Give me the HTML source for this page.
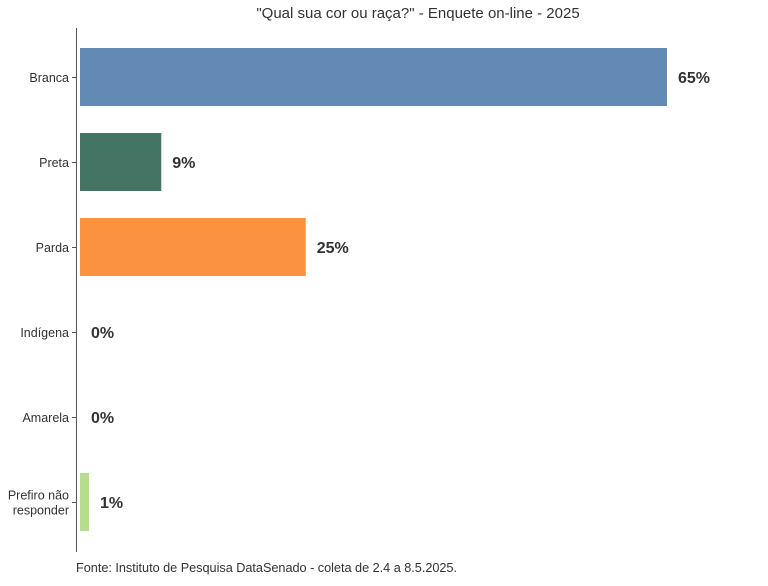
<!DOCTYPE html>
<html><head><meta charset="utf-8"><style>
body{margin:0;background:#fff;}
svg text{font-family:"Liberation Sans",sans-serif;}
</style></head><body>
<svg id="chart" width="768" height="581" xmlns="http://www.w3.org/2000/svg">
<text x="418" y="18" text-anchor="middle" font-size="15" fill="#333">"Qual sua cor ou raça?" - Enquete on-line - 2025</text>
<line x1="76.5" y1="28" x2="76.5" y2="552" stroke="#555" stroke-width="1"/>
<g id="bars"></g>
<text x="76" y="572" font-size="12.7" fill="#333" textLength="381">Fonte: Instituto de Pesquisa DataSenado - coleta de 2.4 a 8.5.2025.</text>
</svg>
<script>
const categories = ["Branca","Preta","Parda","Indígena","Amarela","Prefiro não responder"];
const values = [65,9,25,0,0,1];
const labels = ["65%","9%","25%","0%","0%","1%"];
const colors = ["#6389b5","#447463","#fb9240","#888","#888","#b5dd8f"];
const NS="http://www.w3.org/2000/svg";
const g=document.getElementById('bars');
const x0=80, pxPer=9.03;
const xScale=v=>x0+v*pxPer;
const yCenter=i=>77+i*85;
const bh=58;
categories.forEach((c,i)=>{
  const yc=yCenter(i);
  const r=document.createElementNS(NS,'rect');
  
  
  r.setAttribute('x',x0);r.setAttribute('y',yc-bh/2);
  r.setAttribute('width',Math.max(0,xScale(values[i])-x0));r.setAttribute('height',bh);
  r.setAttribute('fill',colors[i]);g.appendChild(r);
  const t=document.createElementNS(NS,'text');
  
  
  t.setAttribute('x',xScale(values[i])+11);t.setAttribute('y',yc+6);
  t.setAttribute('font-size','16');t.setAttribute('font-weight','bold');t.setAttribute('fill','#333');
  t.textContent=labels[i];g.appendChild(t);
  const tk=document.createElementNS(NS,'line');
  
  
  tk.setAttribute('x1',72);tk.setAttribute('x2',76);tk.setAttribute('y1',yc+0.5);tk.setAttribute('y2',yc+0.5);
  tk.setAttribute('stroke','#555');g.appendChild(tk);
  const words=c==="Prefiro não responder"?["Prefiro não","responder"]:[c];
  words.forEach((w,j)=>{
    const l=document.createElementNS(NS,'text');
    
    
    l.setAttribute('x',69);
    l.setAttribute('y',yc+5+(j-(words.length-1)/2)*15);
    l.setAttribute('text-anchor','end');l.setAttribute('font-size','12.5');l.setAttribute('fill','#333');
    l.textContent=w;g.appendChild(l);
  });
});
</script>
</body></html>
